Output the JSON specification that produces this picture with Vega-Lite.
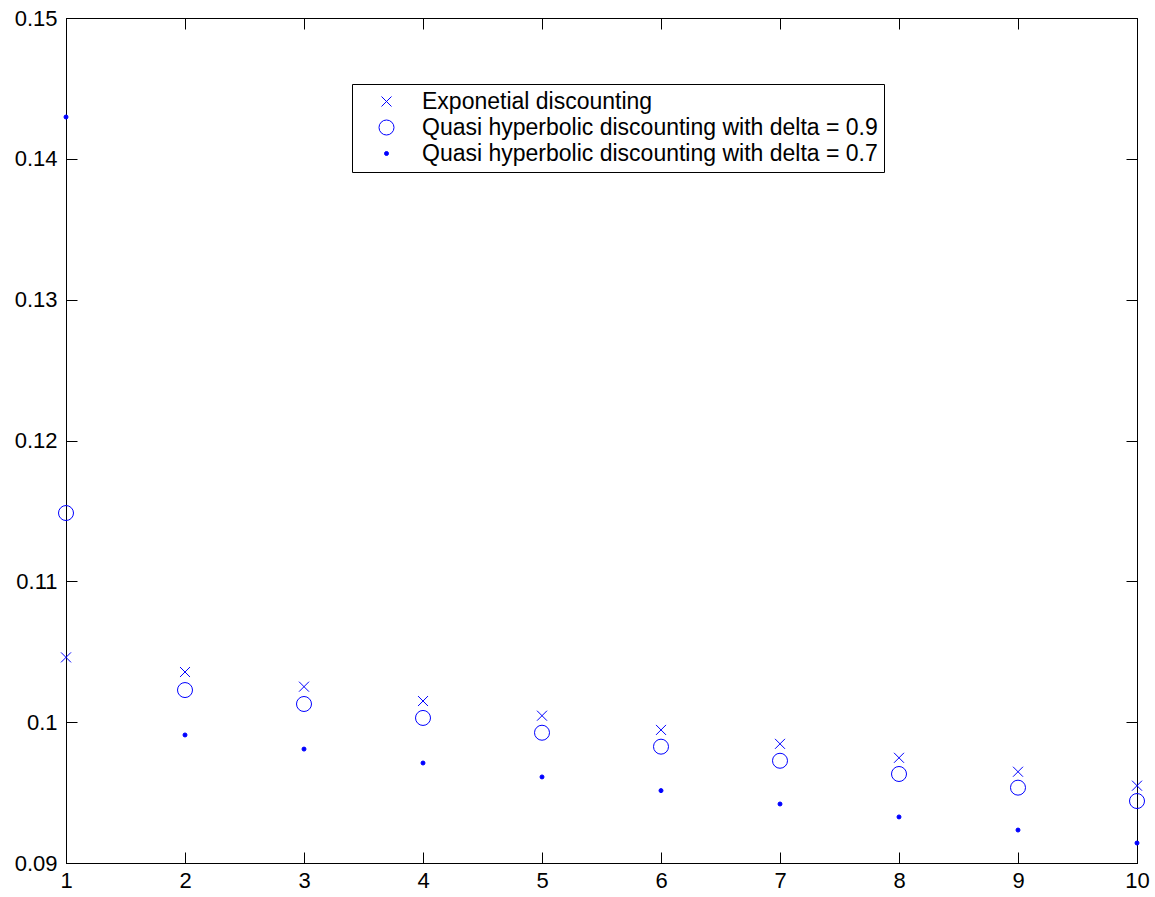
{
  "$schema": "https://vega.github.io/schema/vega-lite/v6.json",
  "width": 1071,
  "height": 845,
  "autosize": {"type": "none"},
  "padding": {"left": 66, "top": 18, "right": 18, "bottom": 34},
  "background": "white",
  "config": {
    "font": "Liberation Sans",
    "view": {"stroke": "black", "strokeWidth": 1},
    "axis": {
      "grid": false,
      "domainColor": "black",
      "domainWidth": 1,
      "tickColor": "black",
      "tickWidth": 1,
      "tickSize": -11,
      "labelColor": "black",
      "labelFontSize": 22,
      "labelFont": "Liberation Sans",
      "title": null
    }
  },
  "data": {
    "values": [
      {"t": 1, "v": 0.1046, "series": "Exponetial discounting"},
      {"t": 2, "v": 0.10356, "series": "Exponetial discounting"},
      {"t": 3, "v": 0.10252, "series": "Exponetial discounting"},
      {"t": 4, "v": 0.1015, "series": "Exponetial discounting"},
      {"t": 5, "v": 0.10046, "series": "Exponetial discounting"},
      {"t": 6, "v": 0.09945, "series": "Exponetial discounting"},
      {"t": 7, "v": 0.09846, "series": "Exponetial discounting"},
      {"t": 8, "v": 0.09747, "series": "Exponetial discounting"},
      {"t": 9, "v": 0.09648, "series": "Exponetial discounting"},
      {"t": 10, "v": 0.09549, "series": "Exponetial discounting"},
      {"t": 1, "v": 0.11485, "series": "Quasi hyperbolic discounting with delta = 0.9"},
      {"t": 2, "v": 0.10228, "series": "Quasi hyperbolic discounting with delta = 0.9"},
      {"t": 3, "v": 0.10129, "series": "Quasi hyperbolic discounting with delta = 0.9"},
      {"t": 4, "v": 0.1003, "series": "Quasi hyperbolic discounting with delta = 0.9"},
      {"t": 5, "v": 0.09925, "series": "Quasi hyperbolic discounting with delta = 0.9"},
      {"t": 6, "v": 0.09826, "series": "Quasi hyperbolic discounting with delta = 0.9"},
      {"t": 7, "v": 0.09726, "series": "Quasi hyperbolic discounting with delta = 0.9"},
      {"t": 8, "v": 0.09632, "series": "Quasi hyperbolic discounting with delta = 0.9"},
      {"t": 9, "v": 0.09535, "series": "Quasi hyperbolic discounting with delta = 0.9"},
      {"t": 10, "v": 0.0944, "series": "Quasi hyperbolic discounting with delta = 0.9"},
      {"t": 1, "v": 0.14297, "series": "Quasi hyperbolic discounting with delta = 0.7"},
      {"t": 2, "v": 0.09909, "series": "Quasi hyperbolic discounting with delta = 0.7"},
      {"t": 3, "v": 0.09809, "series": "Quasi hyperbolic discounting with delta = 0.7"},
      {"t": 4, "v": 0.0971, "series": "Quasi hyperbolic discounting with delta = 0.7"},
      {"t": 5, "v": 0.09611, "series": "Quasi hyperbolic discounting with delta = 0.7"},
      {"t": 6, "v": 0.09514, "series": "Quasi hyperbolic discounting with delta = 0.7"},
      {"t": 7, "v": 0.09419, "series": "Quasi hyperbolic discounting with delta = 0.7"},
      {"t": 8, "v": 0.09327, "series": "Quasi hyperbolic discounting with delta = 0.7"},
      {"t": 9, "v": 0.09234, "series": "Quasi hyperbolic discounting with delta = 0.7"},
      {"t": 10, "v": 0.09142, "series": "Quasi hyperbolic discounting with delta = 0.7"}
    ]
  },
  "layer": [
    {
      "mark": {"type": "point", "strokeWidth": 1, "opacity": 1},
      "encoding": {
        "x": {
          "field": "t", "type": "quantitative",
          "scale": {"domain": [1, 10], "nice": false, "zero": false},
          "axis": {"orient": "bottom", "values": [1, 2, 3, 4, 5, 6, 7, 8, 9, 10], "format": "d", "labelPadding": 18, "labelFlush": false}
        },
        "y": {
          "field": "v", "type": "quantitative",
          "scale": {"domain": [0.09, 0.15], "nice": false, "zero": false},
          "axis": {"orient": "left", "values": [0.09, 0.1, 0.11, 0.12, 0.13, 0.14, 0.15], "format": "~g", "labelPadding": 20, "labelFlush": false}
        },
        "shape": {
          "field": "series", "type": "nominal",
          "scale": {
            "domain": ["Exponetial discounting", "Quasi hyperbolic discounting with delta = 0.9", "Quasi hyperbolic discounting with delta = 0.7"],
            "range": ["M-1,-1L1,1M-1,1L1,-1", "circle", "circle"]
          },
          "legend": {
            "orient": "none", "legendX": 286, "legendY": 66,
            "title": null,
            "strokeColor": "black", "fillColor": "white",
            "padding": 6,
            "labelFontSize": 23, "labelColor": "black", "labelFont": "Liberation Sans",
            "symbolOffset": 17, "labelOffset": 24, "rowPadding": 2,
            "symbolStrokeWidth": 1,
            "symbolStrokeColor": "#0000ff",
            "labelLimit": 800,
            "encode": {"symbols": {"update": {"stroke": {"value": "#0000ff"}, "opacity": {"value": 1}}}}
          }
        },
        "stroke": {
          "field": "series", "type": "nominal",
          "scale": {
            "domain": ["Exponetial discounting", "Quasi hyperbolic discounting with delta = 0.9", "Quasi hyperbolic discounting with delta = 0.7"],
            "range": ["#0000ff", "#0000ff", "#0000ff"]
          }
        },
        "size": {
          "field": "series", "type": "nominal",
          "scale": {
            "type": "ordinal",
            "domain": ["Exponetial discounting", "Quasi hyperbolic discounting with delta = 0.9", "Quasi hyperbolic discounting with delta = 0.7"],
            "range": [100, 225, 16]
          }
        },
        "fill": {
          "field": "series", "type": "nominal",
          "scale": {
            "domain": ["Exponetial discounting", "Quasi hyperbolic discounting with delta = 0.9", "Quasi hyperbolic discounting with delta = 0.7"],
            "range": ["transparent", "transparent", "#0000ff"]
          }
        }
      }
    },
    {
      "mark": {"type": "point", "opacity": 0},
      "encoding": {
        "x": {
          "field": "t", "type": "quantitative",
          "axis": {"orient": "top", "values": [1, 2, 3, 4, 5, 6, 7, 8, 9, 10], "labels": false}
        },
        "y": {
          "field": "v", "type": "quantitative",
          "axis": {"orient": "right", "values": [0.09, 0.1, 0.11, 0.12, 0.13, 0.14, 0.15], "labels": false}
        }
      }
    }
  ],
  "resolve": {"axis": {"x": "independent", "y": "independent"}}
}
